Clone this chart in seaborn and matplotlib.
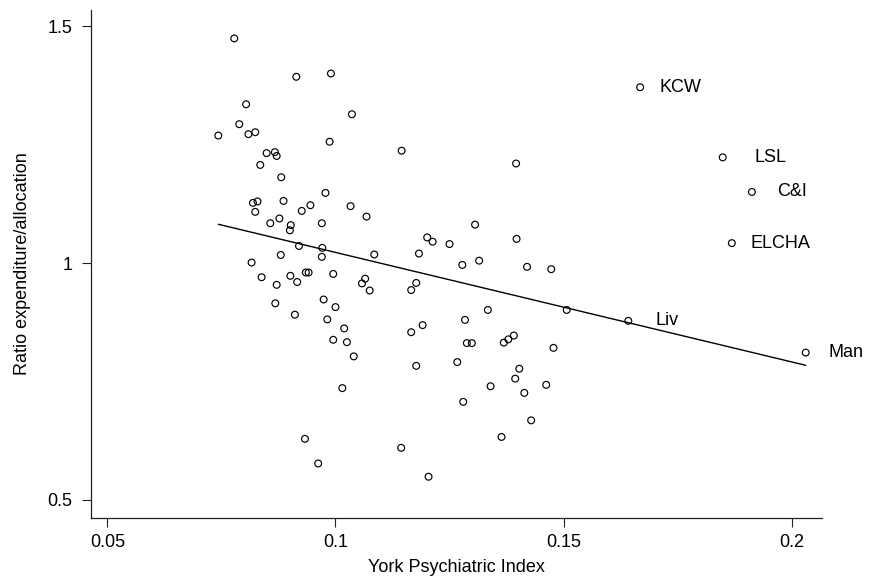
import numpy as np
import pandas as pd
import matplotlib
matplotlib.use("Agg")
import matplotlib.pyplot as plt
import seaborn as sns

# ---- data ----
york_index = [
    0.0778, 0.0914, 0.0990, 0.0804, 0.1036, 0.0789, 0.0743, 0.0809, 0.0824, 0.0987,
    0.1145, 0.0849, 0.0867, 0.0871, 0.0835, 0.0881, 0.0978, 0.0819, 0.0829, 0.0886,
    0.0945, 0.1033, 0.0824, 0.0926, 0.1068, 0.0877, 0.0857, 0.0902, 0.0900, 0.0970,
    0.0920, 0.0971, 0.1085, 0.0880, 0.0816, 0.0970, 0.0838, 0.0901, 0.0871, 0.0916,
    0.0935, 0.0941, 0.0995, 0.1065, 0.1058, 0.1075, 0.0868, 0.0974, 0.1000, 0.0911,
    0.0982, 0.1019, 0.0995, 0.1025, 0.1040, 0.1015, 0.0933, 0.0962, 0.1144, 0.1204,
    0.1396, 0.1306, 0.1201, 0.1213, 0.1250, 0.1397, 0.1183, 0.1278, 0.1315, 0.1420,
    0.1473, 0.1177, 0.1166, 0.1334, 0.1507, 0.1284, 0.1191, 0.1166, 0.1288, 0.1299,
    0.1369, 0.1379, 0.1391, 0.1478, 0.1177, 0.1267, 0.1403, 0.1394, 0.1340, 0.1462,
    0.1414, 0.1280, 0.1429, 0.1364,
]
ratio = [
    1.474, 1.393, 1.400, 1.335, 1.314, 1.293, 1.269, 1.272, 1.276, 1.256,
    1.237, 1.232, 1.234, 1.226, 1.207, 1.181, 1.148, 1.127, 1.130, 1.131,
    1.122, 1.120, 1.108, 1.110, 1.098, 1.094, 1.084, 1.080, 1.069, 1.084,
    1.036, 1.032, 1.018, 1.017, 1.001, 1.013, 0.970, 0.973, 0.954, 0.960,
    0.980, 0.980, 0.977, 0.967, 0.957, 0.942, 0.915, 0.923, 0.907, 0.891,
    0.881, 0.862, 0.838, 0.833, 0.803, 0.736, 0.629, 0.577, 0.610, 0.549,
    1.210, 1.081, 1.054, 1.045, 1.040, 1.051, 1.020, 0.996, 1.005, 0.992,
    0.987, 0.958, 0.943, 0.901, 0.901, 0.880, 0.869, 0.854, 0.831, 0.831,
    0.832, 0.839, 0.847, 0.821, 0.783, 0.791, 0.777, 0.756, 0.740, 0.743,
    0.726, 0.707, 0.668, 0.633,
]
label_names = ["KCW", "LSL", "C&I", "ELCHA", "Liv", "Man"]
label_x = [0.1668, 0.1849, 0.1913, 0.1869, 0.1642, 0.2031]
label_y = [1.371, 1.223, 1.150, 1.042, 0.878, 0.811]

x_ticks = [0.05, 0.10, 0.15, 0.20]
x_tick_labels = ["0.05", "0.1", "0.15", "0.2"]
y_ticks = [0.5, 1.0, 1.5]
y_tick_labels = ["0.5", "1", "1.5"]

# per-label horizontal text offsets (pixels)
label_offsets = [19, 32, 25, 19, 27, 23]

df = pd.DataFrame({
    "York Psychiatric Index": york_index + label_x,
    "Ratio expenditure/allocation": ratio + label_y,
})

sns.set_style("ticks")
plt.rcParams["font.family"] = ["Liberation Sans", "DejaVu Sans"]
plt.rcParams["text.color"] = "black"
plt.rcParams["axes.labelcolor"] = "black"
plt.rcParams["xtick.color"] = "black"
plt.rcParams["ytick.color"] = "black"

fig = plt.figure(figsize=(8.72, 5.77), dpi=100)
ax = fig.add_axes([0.1044, 0.1023, 0.8379, 0.8804])

sns.scatterplot(data=df, x="York Psychiatric Index", y="Ratio expenditure/allocation",
                ax=ax, marker="o", s=24, facecolor="none", edgecolor="black",
                linewidth=0.85, zorder=3)
sns.regplot(data=df, x="York Psychiatric Index", y="Ratio expenditure/allocation",
            ax=ax, scatter=False, ci=None, truncate=True,
            line_kws={"color": "black", "linewidth": 1.0})

for name, xv, yv, off in zip(label_names, label_x, label_y, label_offsets):
    ax.annotate(name, (xv, yv), xytext=(off, 0), textcoords="offset pixels",
                ha="left", va="center", fontsize=13, color="black")

ax.set_xlim(0.0464, 0.2066)
ax.set_ylim(0.462, 1.534)
ax.set_xticks(x_ticks)
ax.set_xticklabels(x_tick_labels)
ax.set_yticks(y_ticks)
ax.set_yticklabels(y_tick_labels)
ax.tick_params(axis="both", direction="out", length=6.5, width=0.8,
               labelsize=13, color="#222222", labelcolor="black")
ax.tick_params(axis="x", pad=5)
ax.tick_params(axis="y", pad=7)
ax.set_xlabel("York Psychiatric Index", fontsize=13, labelpad=6, color="black")
ax.set_ylabel("Ratio expenditure/allocation", fontsize=13, labelpad=12, color="black")
sns.despine(ax=ax)
for sp in ("left", "bottom"):
    ax.spines[sp].set_linewidth(0.9)
    ax.spines[sp].set_color("#222222")

fig.savefig("out.png", dpi=100, facecolor="white")
